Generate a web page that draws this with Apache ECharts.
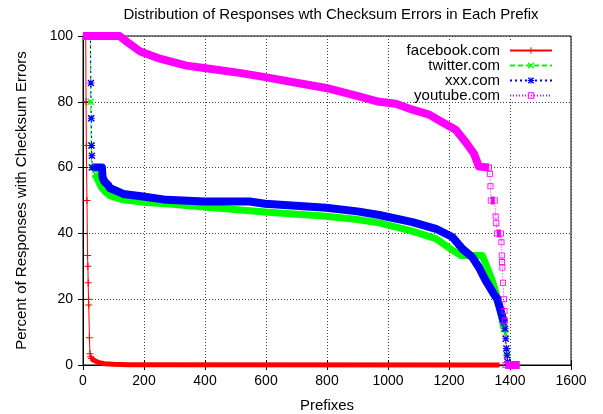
<!DOCTYPE html>
<html><head><meta charset="utf-8">
<script src="https://cdn.jsdelivr.net/npm/echarts@6/dist/echarts.min.js"></script>
<style>html,body{margin:0;padding:0;background:#fff}#c{width:603px;height:414px}</style>
</head><body><div id="c"></div>
<script>
// ---- data (x = prefix rank, y = percent) ----
const seriesNames = ['facebook.com', 'twitter.com', 'xxx.com', 'youtube.com'];
const xMax = 1600, xStep = 200;
const yMax = 100, yStep = 20;

// sparse parts (individual markers visible)
const facebookSparse = [[9,100],[10,80],[11,66.7],[13,50],[15,33.3],[16,30],[17,25],[18,20],[19,18.2],[21,8.3],[23,3.4],[25,2.5],[28,2]];
const twitterSparse = [[24,100],[25,80],[26,75],[27,66.7],[28,60],[40,58]];
const twitterSparseTail = [[1380,11],[1385,9.5],[1390,4],[1393,0]];
const xxxSparse = [[24,100],[26,85.7],[27,75],[28,66.7],[29,63.6],[30,60]];
const xxxSparseTail = [[1380,13],[1384,11],[1386,8],[1388,5],[1390,3],[1392,1],[1395,0]];
const youtubeSparse = [[1331,60],[1334,58.1],[1336,54.3],[1337,50],[1350,50],[1353,45.1],[1355,43.1],[1357,40],[1370,40],[1372,37.3],[1373,33.3],[1374,31.3],[1375,29.6],[1377,25],[1380,20],[1382,16.4],[1383,13.5],[1385,0]];

// dense parts (markers overlap into a solid band)
const facebookDense = [[28,2],[33,1.6],[40,1.2],[50,0.8],[70,0.4],[100,0.2],[150,0.1],[1366,0]];
const twitterDense = [[40,58],[50,56],[60,54],[75,52.5],[88,51.5],[132,50.2],[197,49.5],[274,49],[397,48],[597,46.5],[797,45.2],[900,44.2],[971,43.2],[1080,40.7],[1157,38.4],[1205,35.3],[1238,33.3],[1309,33.3],[1320,30.8],[1331,28.2],[1342,25.7],[1364,18.6],[1380,11]];
const xxxDense = [[30,60],[62,60],[64,57.1],[70,55.8],[83,54.6],[88,53.8],[132,52],[197,51.2],[274,50.2],[397,49.7],[546,49.7],[597,49],[797,47.8],[900,46.7],[971,45.6],[1080,43.4],[1157,41.4],[1211,38.9],[1244,35.3],[1276,32.8],[1298,29.7],[1320,25.7],[1347,21.6],[1358,20.1],[1369,16.6],[1380,13]];
const youtubeDense = [[0,100],[120,100],[140,98.5],[186,95.4],[252,93.1],[339,91],[397,90.3],[513,88.8],[597,87.5],[699,85.8],[797,84.2],[895,81.9],[971,80],[1026,79.4],[1080,77.6],[1135,76.1],[1178,73.8],[1222,71.5],[1255,67.7],[1282,64.2],[1298,60.3],[1300,60],[1331,60],'-',[1337,50],[1350,50],'-',[1357,40],[1370,40],'-',[1385,0],[1432,0]];

// ---- styles ----
const FONT = 'Liberation Sans, Arial, Helvetica, sans-serif';
const colors = ['#ff0000', '#00ff00', '#0000ff', '#ff00ff'];
const dashes = ['solid', [5, 3], [2, 3], [1, 2]];
const PLUS = 'path://M3,0h1v3h3v1h-3v3h-1v-3h-3v-1h3z';
const CROSS = 'path://M0,1L1,0L3.5,2.5L6,0L7,1L4.5,3.5L7,6L6,7L3.5,4.5L1,7L0,6L2.5,3.5Z';
const STAR = 'path://M3,0h1v3h3v1h-3v3h-1v-3h-3v-1h3z M0,1L1,0L3.5,2.5L6,0L7,1L4.5,3.5L7,6L6,7L3.5,4.5L1,7L0,6L2.5,3.5Z';
const SQUARE = 'path://M0,0H7V7H0Z M1,1V6H6V1Z';
const symbols = [PLUS, CROSS, STAR, SQUARE];
const bandWidths = [5, 7, 8, 8];

function sparse(i, data, name) {
  return {
    type: 'line', name: name, data: data, xAxisIndex: 0, yAxisIndex: 0, z: i === 3 ? 3 : 2,
    symbol: symbols[i], symbolSize: i === 3 ? 6 : 7, showSymbol: true, clip: false,
    lineStyle: { color: colors[i], width: 1, type: dashes[i] },
    itemStyle: { color: colors[i] }, animation: false, silent: true
  };
}
function band(i, data) {
  return {
    type: 'line', name: seriesNames[i] + ' band', data: data, xAxisIndex: 0, yAxisIndex: 0, z: i === 3 ? 3 : 2,
    symbol: 'none', clip: false, connectNulls: false,
    lineStyle: { color: colors[i], width: bandWidths[i], join: 'round', cap: 'butt' },
    animation: false, silent: true
  };
}

const series = [
  sparse(0, facebookSparse, seriesNames[0]), band(0, facebookDense),
  sparse(1, twitterSparse, seriesNames[1]), band(1, twitterDense), sparse(1, twitterSparseTail, seriesNames[1] + ' tail'),
  sparse(2, xxxSparse, seriesNames[2]), band(2, xxxDense), sparse(2, xxxSparseTail, seriesNames[2] + ' tail'),
  band(3, youtubeDense), sparse(3, youtubeSparse, seriesNames[3])
];

const legends = seriesNames.map((n, i) => ({
  data: [n], orient: 'horizontal', align: 'right', right: 50, top: 43 + i * 15,
  itemWidth: 42, itemHeight: 8, padding: 0, selectedMode: false,
  textStyle: { fontFamily: FONT, fontSize: 15, color: '#000', padding: [0, 5, 0, 0] }
}));

const plain = v => String(v);
const gridLine = { show: true, lineStyle: { color: '#444', type: [1, 2], width: 1 } };
const chart = echarts.init(document.getElementById('c'), null, { renderer: 'canvas' });
chart.setOption({
  backgroundColor: '#fff',
  animation: false,
  title: {
    text: 'Distribution of Responses wth Checksum Errors in Each Prefix',
    left: 331, top: 7, textAlign: 'center', padding: 0,
    textStyle: { fontFamily: FONT, fontSize: 15, fontWeight: 'normal', color: '#000' }
  },
  legend: legends,
  graphic: [{ type: 'rect', z: 1, shape: { x: 396, y: 40, width: 172, height: 59 }, style: { fill: '#fff' } }],
  grid: { left: 83, right: 32, top: 36, bottom: 49, containLabel: false, outerBoundsMode: 'none', show: true, borderColor: '#000', borderWidth: 1, backgroundColor: 'transparent' },
  xAxis: [{
    type: 'value', min: 0, max: xMax, interval: xStep, position: 'bottom',
    name: 'Prefixes', nameLocation: 'middle', nameGap: 33,
    nameTextStyle: { fontFamily: FONT, fontSize: 15, color: '#000' },
    axisLine: { show: true, lineStyle: { color: '#000', width: 1 } },
    axisTick: { show: true, inside: true, length: 5, lineStyle: { color: '#000' } },
    axisLabel: { fontFamily: FONT, fontSize: 14, color: '#000', margin: 9, formatter: plain },
    splitLine: gridLine
  }, {
    type: 'value', min: 0, max: xMax, interval: xStep, position: 'top',
    axisLine: { show: true, lineStyle: { color: '#000' } },
    axisTick: { show: true, inside: true, length: 5, lineStyle: { color: '#000' } },
    axisLabel: { show: false }, splitLine: { show: false }
  }],
  yAxis: [{
    type: 'value', min: 0, max: yMax, interval: yStep, position: 'left',
    name: 'Percent of Responses with Checksum Errors', nameLocation: 'middle', nameGap: 54,
    nameTextStyle: { fontFamily: FONT, fontSize: 15, color: '#000' },
    axisLine: { show: true, lineStyle: { color: '#000', width: 1 } },
    axisTick: { show: true, inside: true, length: 5, lineStyle: { color: '#000' } },
    axisLabel: { fontFamily: FONT, fontSize: 14, color: '#000', margin: 10, formatter: plain },
    splitLine: gridLine
  }, {
    type: 'value', min: 0, max: yMax, interval: yStep, position: 'right',
    axisLine: { show: true, lineStyle: { color: '#000' } },
    axisTick: { show: true, inside: true, length: 5, lineStyle: { color: '#000' } },
    axisLabel: { show: false }, splitLine: { show: false }
  }],
  series: series
});
</script></body></html>
